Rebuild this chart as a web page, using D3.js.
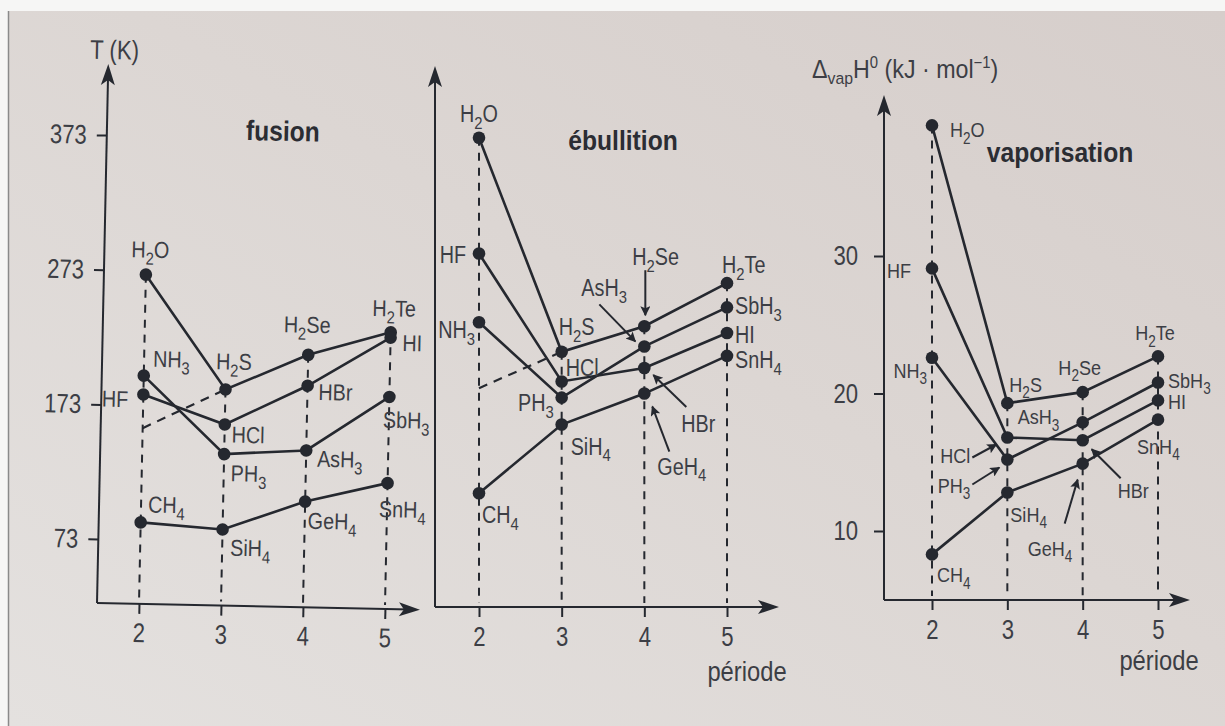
<!DOCTYPE html>
<html>
<head>
<meta charset="utf-8">
<title>Fusion, ébullition, vaporisation des hydrures</title>
<script src="https://cdn.jsdelivr.net/npm/d3@7/dist/d3.min.js"></script>
<style>
  * { margin:0; padding:0; }
  body { background:#f6f6f5; }
  svg text { font-family:"Liberation Sans", Arial, sans-serif; }
</style>
</head>
<body>
<div id="show"></div>
<script>
// périodes et hydrures, colonne par colonne
var periods = [2, 3, 4, 5];
var col16 = ["H2O", "H2S", "H2Se", "H2Te"];
var col17 = ["HF", "HCl", "HBr", "HI"];
var col15 = ["NH3", "PH3", "AsH3", "SbH3"];
var col14 = ["CH4", "SiH4", "GeH4", "SnH4"];

// températures de fusion (K)
var fusion16 = [270, 186, 213, 231];
var fusion17 = [181, 160, 190, 227];
var fusion15 = [195, 138, 142, 183];
var fusion14 = [86, 82, 104, 119];
var fusionExtrap = 156;   // H2O "normal" extrapolé

// températures d'ébullition (K)
var boil16 = [371, 212, 231, 263];
var boil17 = [285, 190, 200, 226];
var boil15 = [234, 178, 216, 245];
var boil14 = [107, 158, 181, 209];
var boilExtrap = 185;

// enthalpies de vaporisation (kJ/mol)
var vap16 = [39.5, 19.3, 20.1, 22.7];
var vap17 = [29.1, 16.8, 16.6, 19.5];
var vap15 = [22.6, 15.2, 17.9, 20.8];
var vap14 = [8.3, 12.8, 14.9, 18.1];

var tTicks = [73, 173, 273, 373];
var hTicks = [10, 20, 30];

var ink = "#25282f", txt = "#3c3e45";

var svg = d3.select("#show").append("svg").attr("width", 1225).attr("height", 726);
var defs = svg.append("defs");
var grad = defs.append("linearGradient").attr("id", "paper")
  .attr("x1", "0").attr("y1", "1").attr("x2", "1").attr("y2", "0");
grad.append("stop").attr("offset", "0%").attr("stop-color", "#e4e1df");
grad.append("stop").attr("offset", "55%").attr("stop-color", "#dcd6d3");
grad.append("stop").attr("offset", "100%").attr("stop-color", "#d6cecb");
defs.append("marker").attr("id", "tip").attr("viewBox", "0 0 10 10")
  .attr("refX", 9).attr("refY", 5).attr("markerUnits", "userSpaceOnUse")
  .attr("markerWidth", 13).attr("markerHeight", 10).attr("orient", "auto")
  .append("path").attr("d", "M0,0 L10,5 L0,10 L2,5 Z").attr("fill", ink);

svg.append("rect").attr("width", 1225).attr("height", 726).attr("fill", "#f6f6f5");
svg.append("rect").attr("x", 9).attr("y", 11).attr("width", 1216).attr("height", 715).attr("fill", "url(#paper)");
svg.append("line").attr("x1", 8.5).attr("x2", 8.5).attr("y1", 11).attr("y2", 726)
  .attr("stroke", "#8a8a8a").attr("stroke-width", 1.5);

// police étroite : on resserre horizontalement le texte autour de son point d'ancrage
function squeeze(sel, sx) {
  sel.each(function () {
    var t = d3.select(this);
    var x = +t.attr("x") || 0, y = +t.attr("y") || 0;
    t.attr("x", 0).attr("y", 0)
      .attr("transform", "translate(" + x + "," + y + ") scale(" + sx + ",1)");
  });
}

function formula(t, name, fs) {
  var parts = name.match(/[^0-9]+|[0-9]+/g), down = false;
  parts.forEach(function (p) {
    var s = t.append("tspan").text(p);
    if (/[0-9]/.test(p)) { s.attr("font-size", fs * 0.75).attr("dy", fs * 0.3); down = true; }
    else if (down) { s.attr("dy", -fs * 0.3); down = false; }
  });
}

function arrowUp(g, x, y) {
  g.append("path").attr("d", "M" + x + "," + y + " l-7,21 l7,-5 l7,5 z").attr("fill", ink);
}
function arrowRight(g, x, y) {
  g.append("path").attr("d", "M" + x + "," + y + " l-21,-7 l5,7 l-5,7 z").attr("fill", ink);
}

function drawPanel(g, p) {
  var x = p.x, y = p.y;
  var fams = [col16, col17, col15, col14];
  // pointillés verticaux
  periods.forEach(function (per, i) {
    var top = d3.max(p.values, function (v) { return v[i]; });
    g.append("line").attr("x1", x(per)).attr("x2", x(per))
      .attr("y1", y(top)).attr("y2", p.origin[1] - 4)
      .attr("stroke", ink).attr("stroke-width", 2).attr("stroke-dasharray", "8,7");
  });
  // extrapolation
  if (p.extrap) {
    g.append("line").attr("x1", x(2)).attr("y1", y(p.extrap))
      .attr("x2", x(3)).attr("y2", y(p.values[0][1]))
      .attr("stroke", ink).attr("stroke-width", 2.2).attr("stroke-dasharray", "9,7");
  }
  // axes
  var o = p.origin;
  g.append("line").attr("x1", o[0]).attr("y1", o[1]).attr("x2", o[0]).attr("y2", p.yTip + 10)
    .attr("stroke", ink).attr("stroke-width", 2);
  g.append("line").attr("x1", o[0]).attr("y1", o[1]).attr("x2", p.xTip - 10).attr("y2", o[1])
    .attr("stroke", ink).attr("stroke-width", 2);
  arrowUp(g, o[0], p.yTip);
  arrowRight(g, p.xTip, o[1]);

  var ax = g.append("g").attr("transform", "translate(0," + o[1] + ")")
    .call(d3.axisBottom(x).tickValues(periods).tickFormat(d3.format("d")).tickSize(10).tickPadding(p.xPad));
  ax.select(".domain").remove();
  ax.selectAll("line").attr("stroke", ink).attr("stroke-width", 2);
  ax.selectAll("text").attr("fill", txt).attr("font-size", 27)
    .style("font-family", "'Liberation Sans',Arial,sans-serif");
  squeeze(ax.selectAll("text"), 0.82);

  if (p.ticks) {
    var ay = g.append("g").attr("transform", "translate(" + o[0] + ",0)")
      .call(d3.axisLeft(y).tickValues(p.ticks).tickSize(10).tickPadding(p.yPad));
    ay.select(".domain").remove();
    ay.selectAll("line").attr("stroke", ink).attr("stroke-width", 2);
    ay.selectAll("text").attr("fill", txt).attr("font-size", 27)
      .style("font-family", "'Liberation Sans',Arial,sans-serif");
    squeeze(ay.selectAll("text"), 0.82);
  }

  // courbes et points
  var line = d3.line().x(function (d, i) { return x(periods[i]); }).y(function (d) { return y(d); });
  p.values.forEach(function (vals) {
    g.append("path").attr("d", line(vals)).attr("fill", "none")
      .attr("stroke", ink).attr("stroke-width", 2.6);
  });
  p.values.forEach(function (vals) {
    g.selectAll(null).data(vals).enter().append("circle")
      .attr("cx", function (d, i) { return x(periods[i]); })
      .attr("cy", function (d) { return y(d); })
      .attr("r", 6.3).attr("fill", ink);
  });

  // étiquettes
  fams.forEach(function (names, f) {
    names.forEach(function (n, i) {
      var l = p.labels[n];
      var cx = x(periods[i]), cy = y(p.values[f][i]);
      var t = g.append("text").attr("x", cx + l[1]).attr("y", cy + l[2])
        .attr("text-anchor", l[0]).attr("fill", txt).attr("font-size", p.fs);
      formula(t, n, p.fs);
      squeeze(t, 0.86);
      if (l[3]) {
        g.append("line").attr("x1", cx + l[3][0]).attr("y1", cy + l[3][1])
          .attr("x2", cx + l[3][2]).attr("y2", cy + l[3][3])
          .attr("stroke", ink).attr("stroke-width", 2).attr("marker-end", "url(#tip)");
      }
    });
  });

  var tt = g.append("text").attr("x", p.title[1]).attr("y", p.title[2]).attr("text-anchor", "middle")
    .attr("fill", "#2b2d33").attr("font-size", 28).attr("font-weight", "bold").text(p.title[0]);
  squeeze(tt, 0.88);
}

// --- fusion
var g1 = svg.append("g").attr("transform", "rotate(1.2,97,603)");
drawPanel(g1, {
  x: d3.scaleLinear().domain([2, 5]).range([139, 385]),
  y: d3.scaleLinear().domain([73, 373]).range([539, 135]),
  values: [fusion16, fusion17, fusion15, fusion14], extrap: fusionExtrap,
  origin: [97, 603], yTip: 64, xTip: 420, xPad: 9, yPad: 10, ticks: tTicks, fs: 23,
  title: ["fusion", 273, 137],
  labels: {
    H2O: ["middle", 4, -17], NH3: ["start", 9, -9], HF: ["end", -15, 13], CH4: ["start", 7, -10],
    H2S: ["start", -10, -20], HCl: ["start", 7, 18], PH3: ["start", 7, 27], SiH4: ["start", 8, 26],
    H2Se: ["start", -25, -22], HBr: ["start", 11, 14], AsH3: ["start", 11, 16], GeH4: ["start", 3, 27],
    H2Te: ["middle", 3, -16], HI: ["start", 12, 13], SbH3: ["start", -6, 31], SnH4: ["start", -8, 34]
  }
});
var tk = g1.append("text").attr("x", 103).attr("y", 59).attr("text-anchor", "middle")
  .attr("fill", txt).attr("font-size", 27).text("T (K)");
squeeze(tk, 0.82);

// --- ébullition
var g2 = svg.append("g");
drawPanel(g2, {
  x: d3.scaleLinear().domain([2, 5]).range([479, 727]),
  y: d3.scaleLinear().domain([73, 373]).range([539, 135]),
  values: [boil16, boil17, boil15, boil14], extrap: boilExtrap,
  origin: [435, 607], yTip: 66, xTip: 779, xPad: 10, fs: 23,
  title: ["ébullition", 623, 150],
  labels: {
    H2O: ["middle", 0, -16], HF: ["end", -13, 9], NH3: ["end", -4, 16], CH4: ["start", 3, 30],
    H2S: ["start", -3, -17], HCl: ["start", 4, -5], PH3: ["end", -8, 13], SiH4: ["start", 9, 30],
    H2Se: ["start", -12, -61, [1, -56, 1, -11]], AsH3: ["start", -63, -50, [-45, -42, -9, -5]],
    HBr: ["start", 37, 64, [42, 39, 9, 7]], GeH4: ["start", 13, 81, [25, 58, 8, 13]],
    H2Te: ["start", -5, -10], SbH3: ["start", 8, 7], HI: ["start", 8, 10], SnH4: ["start", 8, 12]
  }
});
var pe2 = g2.append("text").attr("x", 747).attr("y", 681).attr("text-anchor", "middle")
  .attr("fill", txt).attr("font-size", 27).text("période");
squeeze(pe2, 0.88);

// --- vaporisation
var g3 = svg.append("g");
drawPanel(g3, {
  x: d3.scaleLinear().domain([2, 5]).range([932, 1158]),
  y: d3.scaleLinear().domain([10, 30]).range([531, 256]),
  values: [vap16, vap17, vap15, vap14],
  origin: [884, 600], yTip: 95, xTip: 1190, xPad: 10, yPad: 16, ticks: hTicks, fs: 21,
  title: ["vaporisation", 1060, 162],
  labels: {
    H2O: ["start", 18, 12], HF: ["end", -21, 10], NH3: ["end", -5, 20], CH4: ["start", 5, 28],
    H2S: ["start", 2, -11], HCl: ["end", -37, 25, [-35, 20, -11, 7]], PH3: ["end", -37, 33, [-35, 25, -8, 8]],
    SiH4: ["start", 3, 29], H2Se: ["middle", -3, -17], AsH3: ["start", -65, 2],
    HBr: ["start", 35, 58, [38, 38, 9, 9]], GeH4: ["start", -55, 92, [-18, 60, -5, 16]],
    H2Te: ["middle", -3, -16], SbH3: ["start", 10, 5], HI: ["start", 10, 9], SnH4: ["start", -21, 34]
  }
});
var yl = g3.append("text").attr("x", 812).attr("y", 78).attr("fill", txt).attr("font-size", 25);
yl.append("tspan").text("Δ");
yl.append("tspan").attr("font-size", 17).attr("dy", 6).text("vap");
yl.append("tspan").attr("dy", -6).text("H");
yl.append("tspan").attr("font-size", 16).attr("dy", -10).text("0");
yl.append("tspan").attr("dy", 10).text(" (kJ · mol");
yl.append("tspan").attr("font-size", 16).attr("dy", -10).text("−1");
yl.append("tspan").attr("dy", 10).text(")");
squeeze(yl, 0.93);
var pe3 = g3.append("text").attr("x", 1159).attr("y", 670).attr("text-anchor", "middle")
  .attr("fill", txt).attr("font-size", 27).text("période");
squeeze(pe3, 0.88);
</script>
</body>
</html>
